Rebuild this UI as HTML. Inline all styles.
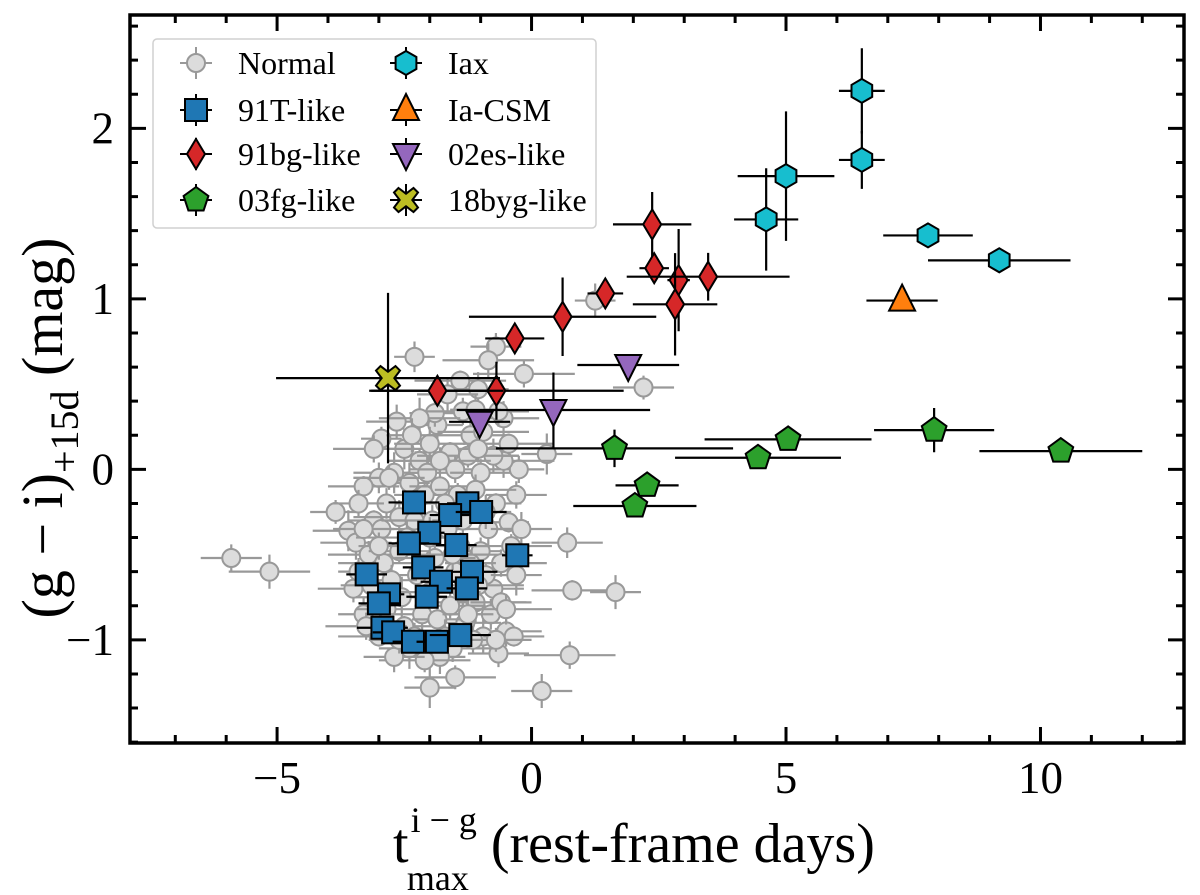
<!DOCTYPE html>
<html><head><meta charset="utf-8"><style>
html,body{margin:0;padding:0;background:#fff;}
svg{display:block;font-family:"Liberation Serif","DejaVu Serif",serif;}
</style></head><body>
<svg id="chart" width="1200" height="895" viewBox="0 0 1200 895" xmlns="http://www.w3.org/2000/svg">
<g id="plot"></g>
<g id="axes"></g>
<g id="legend"></g>
</svg>
<script>
// ---- data ----
const normalX=[-5.9,-5.15,-3.85,-3.6,-2.3,-1.4,-1.05,-0.7,-0.15,1.25,2.2,0.3,0.7,0.8,1.65,0.75,-0.65,0.2,-1.5,-2.0,-0.5,-0.45,-0.85,-0.3,-0.25,-0.55,
-2.95,-2.5,-1.85,-1.6,-1.2,-1.9,-1.35,-1.65,-2.2,-2.7,-3.0,-3.3,-2.05,-1.5,-1.0,-0.75,-1.25,-2.4,-2.85,-3.1,-3.45,-3.2,-2.95,-2.6,-2.1,-1.8,-1.1,-0.7,-0.85,-1.0,-0.6,-0.75,-0.9,-1.1,-0.8,-0.6,-0.95,-1.3,-1.55,-1.8,-2.1,-2.4,-2.7,-3.0,-3.3,-3.5,-3.4,-2.9,-2.6,-2.3,-1.95,-1.65,-1.35,-1.2,-1.5,-1.9,-2.25,-2.55,-2.85,-2.5,-2.15,-1.85,-1.6,-1.35,-1.05,-3.15,-2.75,-2.0,-1.7,-2.3,-1.15,-0.55,-0.4,-0.3,-0.5,-0.35,-2.65,-3.1,-3.4,-2.0,-1.45,-0.95,-0.65,-1.7,-2.45,-3.0,-1.4,-0.9,-2.8,-2.2,-1.1,-0.45,-0.2,-2.6,-3.25,-1.25,-0.7,-2.0,-1.55,-3.3,-2.35,-1.8,-1.05];
const normalY=[-0.52,-0.6,-0.25,-0.36,0.66,0.52,0.47,0.72,0.56,0.99,0.48,0.09,-0.43,-0.71,-0.72,-1.09,-1.08,-1.3,-1.22,-1.28,-0.95,-0.31,0.64,-0.15,0.0,0.05,
0.18,0.12,0.26,0.1,0.2,0.33,0.34,0.44,0.05,-0.02,-0.05,-0.1,-0.02,0.0,-0.02,0.08,0.08,-0.08,-0.2,-0.3,-0.43,-0.5,-0.35,-0.28,-0.15,-0.1,-0.12,-0.2,-0.35,-0.48,-0.55,-0.7,-0.62,-0.78,-0.85,-0.78,-0.98,-0.9,-1.05,-1.1,-1.12,-1.05,-1.1,-0.98,-0.85,-0.7,-0.6,-0.55,-0.48,-0.3,-0.3,-0.35,-0.3,-0.55,-0.6,-0.52,-0.62,-0.75,-0.82,-0.92,-0.85,-0.88,-0.8,-0.72,-0.68,-0.68,-0.65,-0.72,-0.98,-0.98,-1.0,0.3,-0.45,-0.62,-0.82,-0.98,0.28,0.12,-0.2,0.15,-0.15,0.22,0.34,-0.2,-0.4,-0.45,-0.45,-0.25,-0.05,0.3,0.35,0.15,-0.35,-1.0,-0.92,-0.85,-1.0,-0.4,-0.5,-0.35,0.2,0.05,0.12];
const normalXerr=[0.6,0.8,0.5,0.7,0.4,0.9,0.6,0.5,1.0,0.4,0.6,0.5,0.7,0.8,0.5,0.9,0.6];
const normalYerr=[0.08,0.1,0.07,0.12,0.09,0.06,0.1,0.08];

const t91X=[-2.31,-1.26,-1.60,-0.99,-2.01,-2.41,-1.48,-0.28,-2.13,-1.17,-3.24,-1.78,-1.27,-2.80,-2.06,-3.00,-2.93,-2.72,-2.33,-1.86,-1.40];
const t91Y=[-0.194,-0.199,-0.268,-0.25,-0.372,-0.434,-0.444,-0.504,-0.575,-0.601,-0.616,-0.659,-0.698,-0.733,-0.747,-0.786,-0.929,-0.956,-1.011,-1.011,-0.972];
const t91Xerr=[0.5,0.4,0.4,0.5,0.3,0.4,0.4,0.3,0.4,0.5,0.4,0.4,0.4,0.3,0.4,0.4,0.5,0.4,0.4,0.4,0.6];
const t91Yerr=[0.05,0.06,0.05,0.06,0.05,0.05,0.06,0.05,0.05,0.05,0.05,0.06,0.06,0.05,0.05,0.05,0.05,0.05,0.05,0.05,0.06];

const bgX=[2.37,2.41,2.89,3.47,2.82,1.45,0.61,-0.33,-0.69,-1.85];
const bgY=[1.437,1.18,1.11,1.13,0.968,1.032,0.895,0.768,0.461,0.461];
const bgXerr=[0.77,0.29,0.22,1.6,0.83,0.35,1.84,0.58,2.5,1.3];
const bgYerr=[0.19,0.07,0.3,0.14,0.3,0.07,0.23,0.06,0.17,0.06];

const fgX=[1.63,5.04,4.45,7.91,10.4,2.27,2.03];
const fgY=[0.123,0.176,0.068,0.23,0.107,-0.094,-0.215];
const fgXerr=[2.33,1.64,1.63,1.18,1.6,0.62,1.21];
const fgYerr=[0.11,0.05,0.05,0.13,0.03,0.03,0.03];

const iaxX=[6.49,6.49,5.0,4.61,7.79,9.19];
const iaxY=[2.22,1.815,1.72,1.466,1.372,1.226];
const iaxXerr=[0.45,0.45,0.95,0.63,0.88,1.4];
const iaxYerr=[0.25,0.17,0.38,0.3,0.03,0.03];

const csmX=[7.28];
const csmY=[0.99];
const csmXerr=[0.7];
const csmYerr=[0.02];

const esX=[1.90,0.43,-1.02];
const esY=[0.612,0.348,0.279];
const esXerr=[1.0,1.9,0.6];
const esYerr=[0.02,0.22,0.02];

const bygX=[-2.82];
const bygY=[0.535];
const bygXerr=[2.2];
const bygYerr=[0.5];

const xTicks=[-5,0,5,10];
const xTickLabels=["\u22125","0","5","10"];
const yTicks=[-1,0,1,2];
const yTickLabels=["\u22121","0","1","2"];

// ---- scales ----
const L=130,R=1184,T=15,B=743;
const xMin=-7.89,xMax=12.82,yMin=-1.605,yMax=2.665;
function xS(v){return L+(v-xMin)/(xMax-xMin)*(R-L);}
function yS(v){return B-(v-yMin)/(yMax-yMin)*(B-T);}
const NS="http://www.w3.org/2000/svg";
function mk(tag,attrs,parent){const e=document.createElementNS(NS,tag);for(const k in attrs)e.setAttribute(k,attrs[k]);parent.appendChild(e);return e;}
const plot=document.getElementById('plot');
const axes=document.getElementById('axes');
const legend=document.getElementById('legend');

function shape(kind,cx,cy,fill,stroke,sw,parent){
  let e;
  if(kind==='circle'){e=mk('circle',{cx:cx,cy:cy,r:9,fill:fill,stroke:stroke,'stroke-width':sw},parent);}
  else if(kind==='square'){e=mk('rect',{x:cx-11,y:cy-11,width:22,height:22,fill:fill,stroke:stroke,'stroke-width':sw},parent);}
  else{
    let pts=[];
    if(kind==='diamond'){pts=[[0,-15],[9,0],[0,15],[-9,0]];}
    else if(kind==='hex'){for(let i=0;i<6;i++){const a=Math.PI/2+i*Math.PI/3;pts.push([12*Math.cos(a),-12*Math.sin(a)]);}}
    else if(kind==='pent'){for(let i=0;i<5;i++){const a=Math.PI/2+i*2*Math.PI/5;pts.push([13*Math.cos(a),-13*Math.sin(a)]);}}
    else if(kind==='tri'){pts=[[0,-16],[13,10],[-13,10]];}
    else if(kind==='tridown'){pts=[[0,16],[13,-10],[-13,-10]];}
    else if(kind==='x'){const a=4.5,b=12;pts=[[-b+a,-b],[0,-a*1.4],[b-a,-b],[b,-b+a],[a*1.4,0],[b,b-a],[b-a,b],[0,a*1.4],[-b+a,b],[-b,b-a],[-a*1.4,0],[-b,-b+a]];}
    e=mk('polygon',{points:pts.map(p=>(cx+p[0]).toFixed(1)+','+(cy+p[1]).toFixed(1)).join(' '),fill:fill,stroke:stroke,'stroke-width':sw,'stroke-linejoin':'miter'},parent);
  }
  return e;
}

function series(name,xs,ys,xe,ye,kind,fill,ecol,mstroke){
  const g=mk('g',{},plot);
  
  
  for(let i=0;i<xs.length;i++){
    const cx=xS(xs[i]),cy=yS(ys[i]);
    const xer=xe[i%xe.length],yer=ye[i%ye.length];
    const eb=mk('path',{d:`M${xS(xs[i]-xer)},${cy}H${xS(xs[i]+xer)}M${cx},${yS(ys[i]+yer)}V${yS(ys[i]-yer)}`,stroke:ecol,'stroke-width':2.2,fill:'none'},g);
    
    
    const m=shape(kind,cx,cy,fill,mstroke,2,g);
    
    
  }
}
series('normal',normalX,normalY,normalXerr,normalYerr,'circle','#dcdcdc','#999999','#999999');
series('91t-like',t91X,t91Y,t91Xerr,t91Yerr,'square','#1f77b4','#000','#000');
series('91bg-like',bgX,bgY,bgXerr,bgYerr,'diamond','#d62728','#000','#000');
series('03fg-like',fgX,fgY,fgXerr,fgYerr,'pent','#2ca02c','#000','#000');
series('iax',iaxX,iaxY,iaxXerr,iaxYerr,'hex','#17becf','#000','#000');
series('ia-csm',csmX,csmY,csmXerr,csmYerr,'tri','#ff7f0e','#000','#000');
series('02es-like',esX,esY,esXerr,esYerr,'tridown','#9467bd','#000','#000');
series('18byg-like',bygX,bygY,bygXerr,bygYerr,'x','#bcbd22','#000','#000');

// ---- axes ----
const frame=mk('rect',{x:L,y:T,width:R-L,height:B-T,fill:'none',stroke:'#000','stroke-width':3.5},axes);


let tp='';
for(let v=-7;v<=12;v++){const x=xS(v);const len=(v%5===0)?16:8;tp+=`M${x},${B}V${B-len}M${x},${T}V${T+len}`;}
for(let k=-8;k<=13;k++){const v=k*0.2;if(v<yMin||v>yMax)continue;const y=yS(v);const len=(k%5===0)?16:8;tp+=`M${L},${y}H${L+len}M${R},${y}H${R-len}`;}
const ticks=mk('path',{d:tp,stroke:'#000','stroke-width':3,fill:'none'},axes);


xTicks.forEach((v,i)=>{const t=mk('text',{x:xS(v),y:793,'text-anchor':'middle','font-size':45},axes);t.textContent=xTickLabels[i];

});
yTicks.forEach((v,i)=>{const t=mk('text',{x:114,y:yS(v)+15,'text-anchor':'end','font-size':45},axes);t.textContent=yTickLabels[i];

});
</script>
<script>
(function(){
const NS="http://www.w3.org/2000/svg";
const axes=document.getElementById('axes');
const legend=document.getElementById('legend');
// axis titles
const xt=document.createElementNS(NS,'text');


xt.setAttribute('x',393);xt.setAttribute('y',862);xt.setAttribute('font-size',56);
xt.innerHTML='t<tspan font-size="36" dx="2" dy="-30">i \u2212 g</tspan><tspan font-size="36" dx="-70" dy="58">max</tspan><tspan dx="22" dy="-28">(rest-frame days)</tspan>';
axes.appendChild(xt);
const yt=document.createElementNS(NS,'text');


yt.setAttribute('transform','translate(62,428) rotate(-90)');
yt.setAttribute('text-anchor','middle');yt.setAttribute('font-size',58);
yt.innerHTML='(g \u2212 i)<tspan font-size="40" dy="16">+15d</tspan><tspan dy="-16"> (mag)</tspan>';
axes.appendChild(yt);
// legend
const box=document.createElementNS(NS,'rect');


box.setAttribute('x',153);box.setAttribute('y',39);box.setAttribute('width',443);box.setAttribute('height',189);
box.setAttribute('rx',4);box.setAttribute('fill','#fff');box.setAttribute('stroke','#d0d0d0');box.setAttribute('stroke-width',1.5);
legend.appendChild(box);
const entries=[['Normal','circle','#dcdcdc','#999',196,63],['91T-like','square','#1f77b4','#000',196,110],['91bg-like','diamond','#d62728','#000',196,154],['03fg-like','pent','#2ca02c','#000',196,200],
['Iax','hex','#17becf','#000',406,63],['Ia-CSM','tri','#ff7f0e','#000',406,110],['02es-like','tridown','#9467bd','#000',406,154],['18byg-like','x','#bcbd22','#000',406,200]];
entries.forEach(e=>{
  const g=document.createElementNS(NS,'g');
  
  
  legend.appendChild(g);
  const ln=document.createElementNS(NS,'path');
  ln.setAttribute('d',`M${e[4]-16},${e[5]}H${e[4]+16}M${e[4]},${e[5]-16}V${e[5]+16}`);
  ln.setAttribute('stroke',e[3]);ln.setAttribute('stroke-width',2);
  g.appendChild(ln);
  shape(e[1],e[4],e[5],e[2],e[3],2,g);
  const t=document.createElementNS(NS,'text');
  t.setAttribute('x',e[4]+42);t.setAttribute('y',e[5]+11);t.setAttribute('font-size',32);
  t.textContent=e[0];g.appendChild(t);
});
})();
</script>
</body></html>
